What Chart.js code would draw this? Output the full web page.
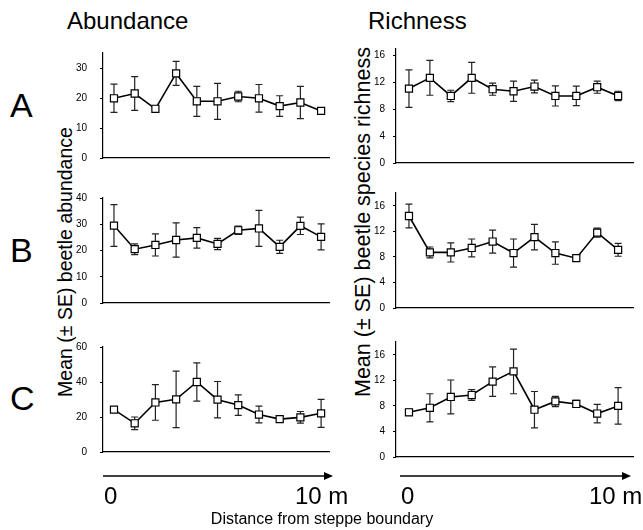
<!DOCTYPE html>
<html>
<head>
<meta charset="utf-8">
<script src="https://cdn.jsdelivr.net/npm/chart.js@4.4.1/dist/chart.umd.min.js"></script>
<style>
    body { margin: 0; background: #fff; }
    #page { position: relative; width: 643px; height: 530px; overflow: hidden; font-family: "Liberation Sans", Arial, sans-serif; color: #000; }
    #page canvas { position: absolute; }
    .txt { position: absolute; line-height: 1; white-space: nowrap; }
    .col-title { font-size: 24px; top: 9px; }
    .row-letter { font-size: 34px; left: 10px; }
    .end-label { font-size: 24px; top: 484px; }
    .y-title { transform: translate(-50%, -50%) rotate(-90deg); }
</style>
</head>
<body>
<div id="page">
    <div class="txt col-title" style="left:67px">Abundance</div>
    <div class="txt col-title" style="left:368px">Richness</div>

    <div class="txt row-letter" style="top:88px">A</div>
    <div class="txt row-letter" style="top:233px">B</div>
    <div class="txt row-letter" style="top:381px">C</div>

    <div class="txt y-title" style="left:66px; top:262px; font-size:19.5px">Mean (± SE) beetle abundance</div>
    <div class="txt y-title" style="left:364px; top:222px; font-size:21.5px">Mean (± SE) beetle species richness</div>

    <canvas id="abund-a"></canvas>
    <canvas id="abund-b"></canvas>
    <canvas id="abund-c"></canvas>
    <canvas id="rich-a"></canvas>
    <canvas id="rich-b"></canvas>
    <canvas id="rich-c"></canvas>

    <!-- distance arrows under the bottom row -->
    <svg width="643" height="530" style="position:absolute;left:0;top:0;pointer-events:none">
        <line x1="103" y1="476" x2="326" y2="476" stroke="#000" stroke-width="1.5"/>
        <polygon points="324,472 333,476 324,480" fill="#000"/>
        <line x1="400" y1="476" x2="624" y2="476" stroke="#000" stroke-width="1.5"/>
        <polygon points="622,472 631,476 622,480" fill="#000"/>
    </svg>

    <div class="txt end-label" style="left:104px">0</div>
    <div class="txt end-label" style="left:295px">10 m</div>
    <div class="txt end-label" style="left:401px">0</div>
    <div class="txt end-label" style="left:589px">10 m</div>

    <div class="txt" style="left:322px; top:511px; font-size:16px; transform:translateX(-50%)">Distance from steppe boundary</div>
</div>

<script>
// distance from the steppe boundary (m)
const distances = [0, 1, 2, 3, 4, 5, 6, 7, 8, 9, 10];

// beetle abundance, mean and SE
const abundanceA = [19.9, 21.5, 16.4, 28.2, 18.9, 18.9, 20.5, 19.9, 17.3, 18.5, 15.7];
const abundanceSeA = [4.7, 5.6, 1.1, 4.0, 5.0, 6.0, 1.75, 4.6, 3.45, 5.35, 0];
const abundanceB = [29.5, 20.5, 22.1, 24.0, 24.8, 22.5, 27.7, 28.4, 21.4, 29.4, 25.2];
const abundanceSeB = [7.95, 2.05, 4.2, 6.5, 3.9, 2.15, 1.6, 6.85, 2.5, 3.3, 4.95];
const abundanceC = [24.2, 16.4, 28.3, 30.1, 40.0, 29.9, 26.8, 21.4, 18.8, 19.8, 22.1];
const abundanceSeC = [0.6, 3.6, 10.15, 16.15, 10.9, 10.4, 5.9, 4.8, 1.5, 3.35, 8.0];

// beetle species richness, mean and SE
const richnessA = [11.1, 12.7, 10.0, 12.7, 11.0, 10.7, 11.4, 10.0, 10.0, 11.3, 10.0];
const richnessSeA = [2.8, 2.6, 0.85, 2.3, 0.9, 1.5, 0.95, 1.5, 1.45, 0.9, 0.7];
const richnessB = [14.4, 8.7, 8.7, 9.4, 10.4, 8.6, 11.1, 8.6, 7.8, 11.8, 9.1];
const richnessSeB = [1.85, 0.85, 1.5, 1.4, 1.8, 2.2, 2.0, 1.75, 0.5, 0.7, 1.0];
const richnessC = [7.0, 7.7, 9.4, 9.7, 11.8, 13.4, 7.4, 8.7, 8.3, 6.8, 8.0];
const richnessSeC = [0.5, 2.2, 2.65, 0.85, 2.3, 3.5, 2.85, 0.8, 0.55, 1.45, 2.85];

// y axis tick labels
const abundanceTicksA = [0, 10, 20, 30];
const abundanceTicksB = [0, 10, 20, 30, 40];
const abundanceTicksC = [0, 20, 40, 60];
const richnessTicks = [0, 4, 8, 12, 16];

const FONT = '"Liberation Sans", Arial, sans-serif';

// vertical SE whiskers with small caps, drawn under the markers
const errorBarPlugin = (se) => ({
    id: 'errorBars',
    beforeDatasetsDraw(chart) {
        const { ctx, scales: { x, y } } = chart;
        const pts = chart.data.datasets[0].data;
        ctx.save();
        ctx.strokeStyle = '#222';
        ctx.lineWidth = 1.2;
        pts.forEach((p, i) => {
            if (!se[i]) return;
            const px = x.getPixelForValue(p.x);
            const top = y.getPixelForValue(p.y + se[i]);
            const bot = y.getPixelForValue(p.y - se[i]);
            ctx.beginPath();
            ctx.moveTo(px, top); ctx.lineTo(px, bot);
            ctx.moveTo(px - 3.5, top); ctx.lineTo(px + 3.5, top);
            ctx.moveTo(px - 3.5, bot); ctx.lineTo(px + 3.5, bot);
            ctx.stroke();
        });
        ctx.restore();
    }
});

// panel geometry (plot area in page pixels)
const makePanel = (id, means, se, yMax, yTicks, box) => {
    const canvas = document.getElementById(id);
    const axisW = 40;
    canvas.width = axisW + (box.right - box.left) + 6;
    canvas.height = (box.bottom - box.top) + 20;
    canvas.style.left = (box.left - axisW) + 'px';
    canvas.style.top = (box.top - 10) + 'px';

    return new Chart(canvas.getContext('2d'), {
        type: 'line',
        data: {
            datasets: [{
                data: distances.map((d, i) => ({ x: d, y: means[i] })),
                borderColor: '#000',
                borderWidth: 1.6,
                pointStyle: 'rect',
                pointRadius: 5,
                pointBackgroundColor: '#fff',
                pointBorderColor: '#000',
                pointBorderWidth: 1.2,
                tension: 0,
                clip: false
            }]
        },
        options: {
            responsive: false,
            animation: false,
            events: [],
            layout: { padding: { top: 10, bottom: 10, right: 6, left: 0 } },
            plugins: { legend: { display: false }, tooltip: { enabled: false } },
            scales: {
                x: {
                    type: 'linear',
                    min: box.xMin,
                    max: box.xMax,
                    ticks: { display: false },
                    grid: { display: false },
                    border: { display: true, color: '#000', width: 1.2 },
                    afterFit: (s) => { s.height = 0; }
                },
                y: {
                    min: 0,
                    max: yMax,
                    afterBuildTicks: (s) => { s.ticks = yTicks.map(v => ({ value: v })); },
                    afterFit: (s) => { s.width = axisW; },
                    ticks: { color: '#000', padding: box.labelPad, font: { family: FONT, size: 10 } },
                    grid: { display: true, drawOnChartArea: false, drawTicks: true, tickLength: 3, color: '#000' },
                    border: { display: true, color: '#000', width: 1.2 }
                }
            }
        },
        plugins: [errorBarPlugin(se)]
    });
};

const leftCol = { left: 103, right: 330, xMin: -0.53, xMax: 10.42, labelPad: 13 };
const rightCol = { left: 396, right: 634, xMin: -0.62, xMax: 10.75, labelPad: 8 };
const rows = [{ top: 44, bottom: 167 }, { top: 189, bottom: 312 }, { top: 338, bottom: 461 }];

makePanel('abund-a', abundanceA, abundanceSeA, 35, abundanceTicksA, { ...leftCol, ...rows[0] });
makePanel('abund-b', abundanceB, abundanceSeB, 40, abundanceTicksB, { ...leftCol, ...rows[1] });
makePanel('abund-c', abundanceC, abundanceSeC, 60, abundanceTicksC, { ...leftCol, ...rows[2] });
makePanel('rich-a', richnessA, richnessSeA, 17, richnessTicks, { ...rightCol, top: 45, bottom: 167 });
makePanel('rich-b', richnessB, richnessSeB, 18, richnessTicks, { ...rightCol, ...rows[1] });
makePanel('rich-c', richnessC, richnessSeC, 18, richnessTicks, { ...rightCol, ...rows[2] });
</script>
</body>
</html>
